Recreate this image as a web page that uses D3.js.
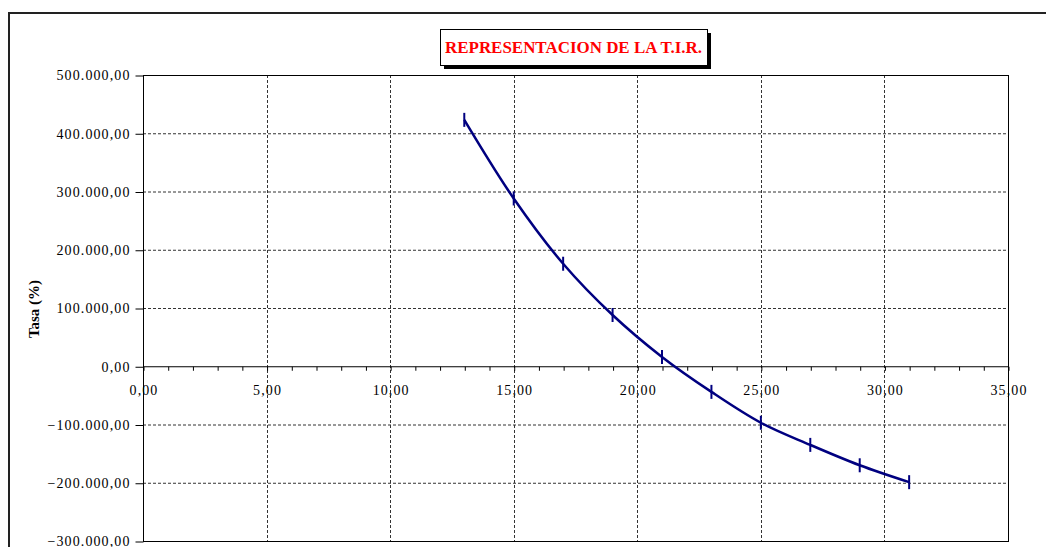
<!DOCTYPE html>
<html>
<head>
<meta charset="utf-8">
<script src="https://cdn.jsdelivr.net/npm/d3@7"></script>
<style>
  html, body { margin: 0; padding: 0; background: #fff; }
  svg { display: block; }
  text { font-family: "Liberation Serif", "Times New Roman", serif; }
</style>
</head>
<body>
<svg id="chart" width="1046" height="547"></svg>
<script>
// ---- data ----
const tasas = [13, 15, 17, 19, 21, 23, 25, 27, 29, 31];
const van = [423000, 288000, 176000, 88000, 16000, -44000, -97000, -135000, -170000, -199000];
const xTicks = [0, 5, 10, 15, 20, 25, 30, 35];
const yTicks = [-300000, -200000, -100000, 0, 100000, 200000, 300000, 400000, 500000];
const xMinorTicks = d3.range(0, 36, 1);
const titleText = "REPRESENTACION DE LA T.I.R.";
const yTitle = "Tasa (%)";

const locale = d3.formatLocale({ decimal: ",", thousands: ".", grouping: [3], currency: ["", ""] });
const fmt = locale.format(",.2f");

const svg = d3.select("#chart");
const plot = { left: 143, right: 1008, top: 75, bottom: 541 };

const x = d3.scaleLinear().domain([0, 35]).range([plot.left, plot.right]);
const y = d3.scaleLinear().domain([-300000, 500000]).range([plot.bottom, plot.top]);

// outer frame
svg.append("rect").attr("x", 9).attr("y", 13).attr("width", 1100).attr("height", 600)
  .attr("fill", "#fff").attr("stroke", "#222").attr("stroke-width", 2);

// grid
const grid = svg.append("g");
grid.selectAll("line.h").data(yTicks.filter(d => d !== 0 && d !== 500000 && d !== -300000)).join("line")
  .attr("x1", plot.left).attr("x2", plot.right)
  .attr("y1", d => y(d) + 0.5).attr("y2", d => y(d) + 0.5)
  .attr("stroke", "#333").attr("stroke-width", 1).attr("stroke-dasharray", "3,2");
grid.selectAll("line.v").data(xTicks.filter(d => d !== 0 && d !== 35)).join("line")
  .attr("x1", d => Math.round(x(d)) + 0.5).attr("x2", d => Math.round(x(d)) + 0.5)
  .attr("y1", plot.top).attr("y2", plot.bottom)
  .attr("stroke", "#333").attr("stroke-width", 1).attr("stroke-dasharray", "3,2");

// plot border
svg.append("rect").attr("x", plot.left + 0.5).attr("y", plot.top + 0.5)
  .attr("width", plot.right - plot.left).attr("height", plot.bottom - plot.top)
  .attr("fill", "none").attr("stroke", "#000").attr("stroke-width", 1);

// y axis
const yAxis = d3.axisLeft(y).tickValues(yTicks).tickFormat(fmt).tickSize(8).tickPadding(5);
const gy = svg.append("g").attr("transform", `translate(${plot.left + 0.5},0.5)`).call(yAxis);
gy.select(".domain").remove();
gy.selectAll("text").attr("font-size", 14).attr("letter-spacing", "1.1px").attr("fill", "#000")
  .attr("font-family", "'Liberation Serif', serif");

// x axis at y = 0
const xAxisMinor = d3.axisBottom(x).tickValues(xMinorTicks).tickFormat("").tickSize(4);
const gxm = svg.append("g").attr("transform", `translate(0.5,${y(0) + 0.5})`).call(xAxisMinor);
gxm.select(".domain").attr("d", `M${plot.left},0H${plot.right}`).attr("stroke", "#000");
const xAxis = d3.axisBottom(x).tickValues(xTicks).tickFormat(fmt).tickSize(0).tickPadding(18);
const gx = svg.append("g").attr("transform", `translate(0.5,${y(0) + 0.5})`).call(xAxis);
gx.select(".domain").remove();
gx.selectAll("text").attr("font-size", 14).attr("letter-spacing", "1.1px").attr("fill", "#000")
  .attr("font-family", "'Liberation Serif', serif");

// y axis title
svg.append("text").attr("transform", "translate(39,309) rotate(-90)")
  .attr("text-anchor", "middle").attr("font-size", 15).attr("font-weight", "bold")
  .text(yTitle);

// line
const pts = tasas.map((t, i) => [t, van[i]]);
svg.append("path").datum(pts)
  .attr("fill", "none").attr("stroke", "#000080").attr("stroke-width", 2.5)
  .attr("d", d3.line().x(d => x(d[0])).y(d => y(d[1])).curve(d3.curveCatmullRom.alpha(0.5)));
svg.append("g").selectAll("line").data(pts).join("line")
  .attr("x1", d => x(d[0])).attr("x2", d => x(d[0]))
  .attr("y1", d => y(d[1]) - 7).attr("y2", d => y(d[1]) + 7)
  .attr("stroke", "#000080").attr("stroke-width", 2);

// title box
const tb = { x: 440, y: 29, w: 267, h: 36 };
svg.append("rect").attr("x", tb.x + 4).attr("y", tb.y + 4).attr("width", tb.w).attr("height", tb.h).attr("fill", "#000");
svg.append("rect").attr("x", tb.x + 0.5).attr("y", tb.y + 0.5).attr("width", tb.w).attr("height", tb.h)
  .attr("fill", "#fff").attr("stroke", "#000").attr("stroke-width", 1);
svg.append("text").attr("x", tb.x + tb.w / 2).attr("y", 53).attr("text-anchor", "middle")
  .attr("fill", "#ff0000").attr("font-size", 16).attr("font-weight", "bold")
  .attr("textLength", 257).attr("lengthAdjust", "spacingAndGlyphs")
  .text(titleText);
</script>
</body>
</html>
